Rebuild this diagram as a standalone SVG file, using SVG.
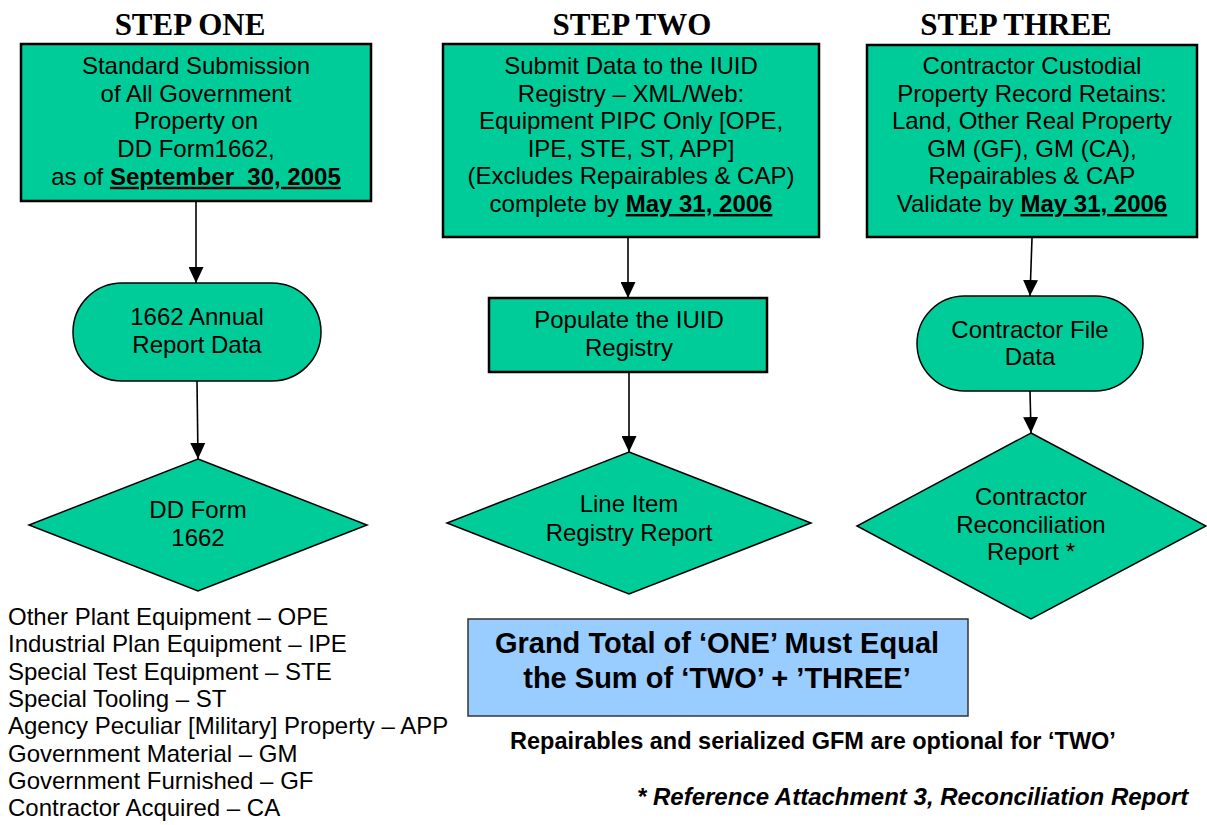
<svg xmlns="http://www.w3.org/2000/svg" width="1207" height="825" viewBox="0 0 1207 825">
<defs>
<style>
.title{font-family:"Liberation Serif","Times New Roman",serif;font-weight:bold;font-size:31px;fill:#000;text-anchor:middle}
.t{font-family:"Liberation Sans",Arial,sans-serif;font-size:24px;fill:#000;text-anchor:middle}
.b{font-weight:bold;text-decoration:underline}
.box{fill:#00CC99;stroke:#000;stroke-width:2.5}
.shape{fill:#00CC99;stroke:#000;stroke-width:1.5}
.conn line{stroke:#000;stroke-width:1.6;marker-end:url(#ah)}
.legend{font-family:"Liberation Sans",Arial,sans-serif;font-size:24px;fill:#000}
.note{font-family:"Liberation Sans",Arial,sans-serif;font-weight:bold;fill:#000}
</style>
<marker id="ah" markerUnits="userSpaceOnUse" markerWidth="16" markerHeight="15" viewBox="0 0 16 15" refX="16" refY="7.5" orient="auto">
<path d="M0,0 L16,7.5 L0,15 z" fill="#000"/>
</marker>
</defs>
<rect width="1207" height="825" fill="#fff"/>

<g id="titles">
<text class="title" x="190" y="35">STEP ONE</text>
<text class="title" x="632" y="35">STEP TWO</text>
<text class="title" x="1016" y="35">STEP THREE</text>
</g>

<g id="connectors" class="conn">
<line x1="196" y1="202" x2="196" y2="283"/>
<line x1="197" y1="381" x2="198" y2="459"/>
<line x1="628" y1="238" x2="628" y2="298"/>
<line x1="629" y1="372" x2="629" y2="452"/>
<line x1="1032" y1="238" x2="1030" y2="296"/>
<line x1="1030" y1="391" x2="1031" y2="433"/>
</g>

<g id="step1-box">
<rect class="box" x="21" y="44" width="350" height="157"/>
<text class="t" x="196" y="74">Standard Submission</text>
<text class="t" x="196" y="101.7">of All Government</text>
<text class="t" x="196" y="129.4">Property on</text>
<text class="t" x="196" y="157.1">DD Form1662,</text>
<text class="t" x="196" y="184.8" xml:space="preserve">as of <tspan class="b">September  30, 2005</tspan></text>
</g>

<g id="step1-data">
<rect class="shape" x="73" y="283" width="248" height="98" rx="49" ry="49"/>
<text class="t" x="197" y="325">1662 Annual</text>
<text class="t" x="197" y="353">Report Data</text>
</g>

<g id="step1-form">
<polygon class="shape" points="198,459 367,525 198,591 29,525"/>
<text class="t" x="198" y="518">DD Form</text>
<text class="t" x="198" y="546">1662</text>
</g>

<g id="step2-box">
<rect class="box" x="443" y="44" width="376" height="193"/>
<text class="t" x="631" y="74">Submit Data to the IUID</text>
<text class="t" x="631" y="101.6">Registry – XML/Web:</text>
<text class="t" x="631" y="129.2">Equipment PIPC Only [OPE,</text>
<text class="t" x="631" y="156.8">IPE, STE, ST, APP]</text>
<text class="t" x="631" y="184.4">(Excludes Repairables &amp; CAP)</text>
<text class="t" x="631" y="212">complete by <tspan class="b">May 31, 2006</tspan></text>
</g>

<g id="step2-populate">
<rect class="box" x="489" y="298" width="278" height="74"/>
<text class="t" x="629" y="328">Populate the IUID</text>
<text class="t" x="629" y="356">Registry</text>
</g>

<g id="step2-report">
<polygon class="shape" points="629,452 811,523 629,594 447,523"/>
<text class="t" x="629" y="512">Line Item</text>
<text class="t" x="629" y="541">Registry Report</text>
</g>

<g id="step3-box">
<rect class="box" x="867" y="45" width="330" height="192"/>
<text class="t" x="1032" y="74">Contractor Custodial</text>
<text class="t" x="1032" y="101.6">Property Record Retains:</text>
<text class="t" x="1032" y="129.2">Land, Other Real Property</text>
<text class="t" x="1032" y="156.8">GM (GF), GM (CA),</text>
<text class="t" x="1032" y="184.4">Repairables &amp; CAP</text>
<text class="t" x="1032" y="212">Validate by <tspan class="b">May 31, 2006</tspan></text>
</g>

<g id="step3-data">
<rect class="shape" x="917" y="296" width="226" height="95" rx="47.5" ry="47.5"/>
<text class="t" x="1030" y="338">Contractor File</text>
<text class="t" x="1030" y="364.5">Data</text>
</g>

<g id="step3-report">
<polygon class="shape" points="1031,433 1206,526 1031,619 857,526"/>
<text class="t" x="1031" y="505">Contractor</text>
<text class="t" x="1031" y="533">Reconciliation</text>
<text class="t" x="1031" y="560">Report *</text>
</g>

<g id="grand-total">
<rect x="468" y="619" width="500" height="97" fill="#99CCFF" stroke="#333" stroke-width="1.5"/>
<text class="note" x="717" y="653" font-size="29" text-anchor="middle">Grand Total of ‘ONE’ Must Equal</text>
<text class="note" x="717" y="688" font-size="29" text-anchor="middle">the Sum of ‘TWO’ + ’THREE’</text>
</g>

<g id="notes">
<text class="note" x="510" y="749" font-size="23.5">Repairables and serialized GFM are optional for ‘TWO’</text>
<text class="note" x="637" y="805" font-size="24" font-style="italic">* Reference Attachment 3, Reconciliation Report</text>
</g>

<g id="legend" class="legend">
<text x="8" y="625">Other Plant Equipment – OPE</text>
<text x="8" y="652.3">Industrial Plan Equipment – IPE</text>
<text x="8" y="679.6">Special Test Equipment – STE</text>
<text x="8" y="706.9">Special Tooling – ST</text>
<text x="8" y="734.2">Agency Peculiar [Military] Property – APP</text>
<text x="8" y="761.5">Government Material – GM</text>
<text x="8" y="788.8">Government Furnished – GF</text>
<text x="8" y="816">Contractor Acquired – CA</text>
</g>
</svg>
